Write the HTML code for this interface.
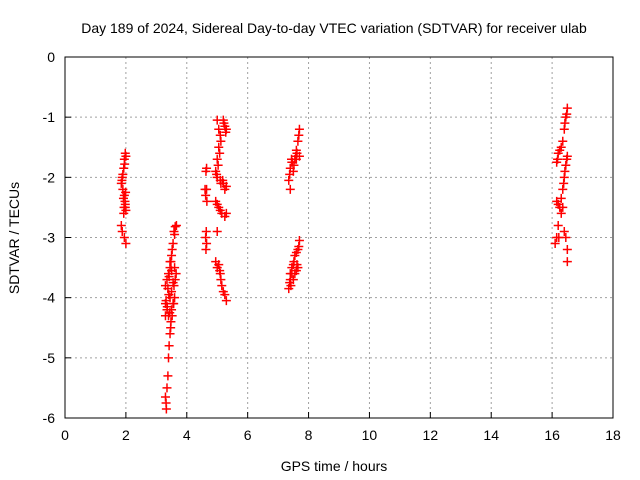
<!DOCTYPE html>
<html><head><meta charset="utf-8"><style>
body{margin:0;background:#fff}
svg{display:block;font-family:"Liberation Sans",sans-serif}
</style></head><body>
<svg id="chart" width="640" height="480">
<rect width="640" height="480" fill="#fff"/>
<text x="334" y="33" font-size="14" text-anchor="middle">Day 189 of 2024, Sidereal Day-to-day VTEC variation (SDTVAR) for receiver ulab</text>
<g id="grid"></g><g id="axes"></g><g id="pts"></g>
<text x="334" y="471" font-size="14" text-anchor="middle">GPS time / hours</text>
<text transform="translate(19,238) rotate(-90)" font-size="14" text-anchor="middle">SDTVAR / TECUs</text>
</svg>
<script>
const xTicks=[0,2,4,6,8,10,12,14,16,18];
const yTicks=[0,-1,-2,-3,-4,-5,-6];
const ptX=[1.98,1.95,1.93,1.88,1.85,1.9,1.95,1.97,1.98,2.0,1.93,1.85,1.88,1.95,2.0,1.98,1.92,2.0,1.96,1.9,1.87,1.99,1.94,
3.62,3.58,3.55,3.5,3.45,3.4,3.35,3.3,3.6,3.65,3.55,3.5,3.45,3.3,3.35,3.3,3.5,3.55,3.6,3.48,3.45,3.42,3.4,3.38,3.35,3.3,3.32,3.33,3.4,3.45,3.66,3.6,3.52,3.48,3.42,3.38,3.32,3.58,3.62,3.44,3.52,3.47,3.36,3.41,3.57,3.5,
4.65,4.63,4.65,4.62,4.66,4.64,4.62,4.65,4.63,4.6,
5.2,5.25,5.3,5.1,5.05,5.0,4.95,5.0,5.1,5.2,5.3,4.95,5.05,5.15,5.25,5.3,5.0,4.95,5.0,5.1,5.15,5.2,5.3,5.05,5.0,5.05,5.22,5.28,5.12,5.08,5.03,4.98,5.12,5.18,5.25,5.0,5.1,5.08,5.12,5.25,
7.7,7.65,7.6,7.55,7.45,7.4,7.35,7.4,7.5,7.6,7.7,7.68,7.62,7.52,7.44,7.38,7.47,7.58,
7.7,7.65,7.55,7.5,7.45,7.4,7.35,7.5,7.6,7.65,7.4,7.68,7.6,7.52,7.45,7.38,7.55,7.62,7.42,
16.5,16.45,16.4,16.35,16.3,16.2,16.15,16.5,16.45,16.4,16.35,16.3,16.2,16.15,16.2,16.15,16.1,16.3,16.4,16.45,16.5,16.5,16.35,16.48,16.42,16.25,16.18,16.38,16.25,16.22,16.42,16.48];
const ptY=[-1.6,-1.7,-1.85,-2.0,-2.1,-2.2,-2.3,-2.4,-2.5,-2.55,-2.6,-2.8,-2.9,-3.0,-3.1,-2.45,-2.35,-1.65,-1.78,-1.95,-2.05,-2.25,-2.5,
-2.82,-2.9,-3.1,-3.3,-3.5,-3.6,-3.7,-3.8,-3.5,-3.6,-3.75,-3.9,-4.0,-4.1,-4.2,-4.3,-4.2,-4.1,-4.0,-4.4,-4.6,-4.8,-5.0,-5.3,-5.5,-5.65,-5.75,-5.85,-4.3,-3.4,-2.8,-2.95,-3.2,-3.4,-3.65,-3.85,-4.05,-3.8,-3.7,-4.25,-4.3,-4.5,-4.15,-3.95,-4.1,-3.55,
-1.85,-1.9,-2.2,-2.3,-2.4,-2.9,-3.0,-3.1,-3.2,-2.2,
-1.05,-1.15,-1.2,-1.3,-1.5,-1.7,-1.9,-2.0,-2.05,-2.1,-2.15,-2.4,-2.5,-2.6,-2.65,-2.6,-2.9,-3.4,-3.5,-3.6,-3.8,-3.9,-4.05,-3.45,-1.05,-1.2,-1.1,-1.25,-1.4,-1.6,-1.8,-1.95,-2.1,-2.05,-2.2,-2.45,-2.55,-3.55,-3.7,-3.95,
-1.2,-1.4,-1.55,-1.7,-1.75,-1.85,-2.05,-2.2,-1.9,-1.7,-1.65,-1.3,-1.6,-1.8,-1.7,-1.95,-1.75,-1.65,
-3.05,-3.2,-3.3,-3.45,-3.6,-3.7,-3.85,-3.7,-3.55,-3.5,-3.6,-3.15,-3.25,-3.4,-3.5,-3.75,-3.6,-3.45,-3.8,
-0.85,-1.0,-1.2,-1.4,-1.5,-1.6,-1.75,-1.65,-1.8,-2.0,-2.2,-2.35,-2.45,-2.4,-2.8,-3.0,-3.1,-2.6,-2.9,-3.0,-3.2,-3.4,-2.5,-0.95,-1.1,-1.55,-1.7,-2.1,-2.5,-3.0,-1.9,-1.7];
const L=65,R=613,T=57,B=418;
const sx=v=>L+(v-0)/18*(R-L), sy=v=>T+(0-v)/6*(B-T);
const NS='http://www.w3.org/2000/svg';
function mk(tag,attrs,parent,txt){const e=document.createElementNS(NS,tag);for(const k in attrs)e.setAttribute(k,attrs[k]);if(txt!==undefined)e.textContent=txt;parent.appendChild(e);return e;}
const grid=document.getElementById('grid'),axes=document.getElementById('axes'),pts=document.getElementById('pts');
xTicks.forEach(t=>{const x=sx(t);
 if(t>0&&t<18){const g=mk('line',{x1:x,x2:x,y1:T,y2:B,stroke:'#a0a0a0','stroke-dasharray':'2,3'},grid);}
 const tk=mk('line',{x1:x,x2:x,y1:B,y2:B-6,stroke:'#000'},axes);
 const tx=mk('text',{x:x,y:B+22,'font-size':14,'text-anchor':'middle'},axes,String(t));});
yTicks.forEach(t=>{const y=sy(t);
 if(t<0&&t>-6){const g=mk('line',{x1:L,x2:R,y1:y,y2:y,stroke:'#a0a0a0','stroke-dasharray':'2,3'},grid);}
 const tk=mk('line',{x1:L,x2:L+6,y1:y,y2:y,stroke:'#000'},axes);
 const tx=mk('text',{x:L-10,y:y+5,'font-size':14,'text-anchor':'end'},axes,String(t));});
const fr=mk('rect',{x:L,y:T,width:R-L,height:B-T,fill:'none',stroke:'#000'},axes);

ptX.forEach((v,i)=>{const x=sx(v),y=sy(ptY[i]);
 const p=mk('path',{d:`M${x-4.5},${y}H${x+4.5}M${x},${y-4.5}V${y+4.5}`,stroke:'#f00','stroke-width':1.5},pts);
 
 });
</script>
</body></html>
